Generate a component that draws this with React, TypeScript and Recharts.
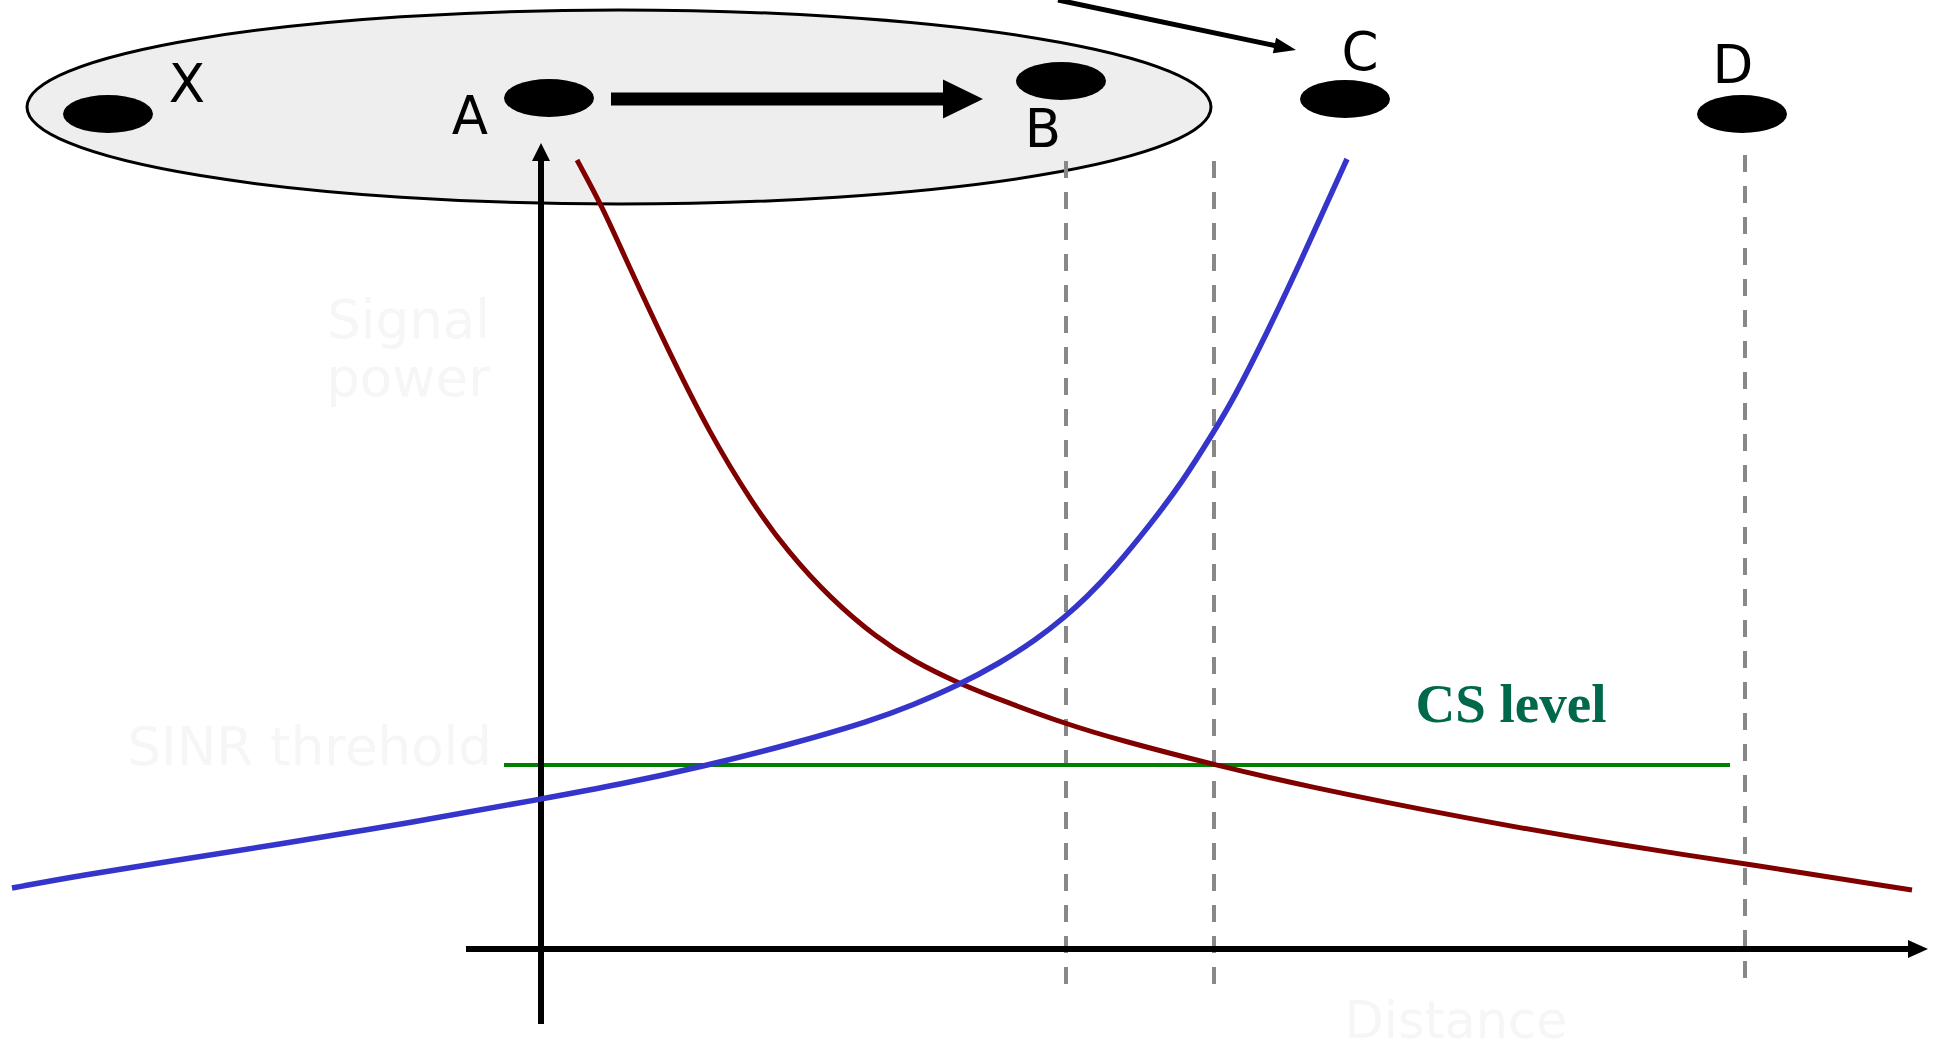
import React from 'react';
import { LineChart, Line, XAxis, YAxis, ReferenceLine, ReferenceDot } from 'recharts';

const W = 1937;
const H = 1052;

// distance (d) vs signal power (p)
const powerFromA = [
  { d: 577, p: 892 }, { d: 602, p: 846 }, { d: 627, p: 790 }, { d: 670, p: 698 },
  { d: 709, p: 620 }, { d: 752, p: 549 }, { d: 788, p: 500 }, { d: 831, p: 453 },
  { d: 877, p: 414 }, { d: 913, p: 391 }, { d: 960, p: 368 }, { d: 1006, p: 350 },
  { d: 1066, p: 328 }, { d: 1119, p: 312 }, { d: 1215, p: 287 }, { d: 1300, p: 267 },
  { d: 1463, p: 234 }, { d: 1625, p: 206 }, { d: 1747, p: 188 }, { d: 1912, p: 162 },
];

const powerFromC = [
  { d: 12, p: 164 }, { d: 83, p: 177 }, { d: 166, p: 190 }, { d: 274, p: 207 },
  { d: 415, p: 230 }, { d: 541, p: 253 }, { d: 622, p: 268 }, { d: 705, p: 286 },
  { d: 788, p: 307 }, { d: 871, p: 331 }, { d: 913, p: 347 }, { d: 957, p: 366 },
  { d: 1000, p: 389 }, { d: 1036, p: 412 }, { d: 1066, p: 436 }, { d: 1086, p: 454 },
  { d: 1113, p: 482 }, { d: 1150, p: 527 }, { d: 1183, p: 571 }, { d: 1213, p: 619 },
  { d: 1233, p: 652 }, { d: 1267, p: 719 }, { d: 1300, p: 789 }, { d: 1327, p: 849 },
  { d: 1347, p: 893 },
];

const csLevel = 287;
const csRange = [504, 1730];

const nodes = [
  { name: 'X', d: 108, p: 938 },
  { name: 'A', d: 549, p: 954 },
  { name: 'B', d: 1061, p: 971 },
  { name: 'C', d: 1345, p: 953 },
  { name: 'D', d: 1742, p: 938 },
];

const nodeLabels = [
  { text: 'X', d: 187, p: 950 },
  { text: 'A', d: 470, p: 918 },
  { text: 'B', d: 1043, p: 905 },
  { text: 'C', d: 1360, p: 982 },
  { text: 'D', d: 1733, p: 969 },
];

const rangeMarks = [
  { d: 1066, top: 891, bottom: 54 },
  { d: 1214, top: 891, bottom: 54 },
  { d: 1745, top: 897, bottom: 60 },
];

const coverage = { d: 619, p: 945 };

const arrows = [
  { from: { d: 541, p: 28 }, to: { d: 541, p: 909 }, w: 6, head: 18, half: 9 },
  { from: { d: 466, p: 103 }, to: { d: 1928, p: 103 }, w: 6, head: 20, half: 9 },
  { from: { d: 611, p: 953 }, to: { d: 983, p: 953 }, w: 13, head: 40, half: 19.5 },
  { from: { d: 1058, p: 1052 }, to: { d: 1296, p: 1002 }, w: 5, head: 22, half: 8 },
];

const faintTexts = [
  { lines: ['Signal', 'power'], d: 490, p: 714, anchor: 'end', size: 53 },
  { lines: ['SINR threhold'], d: 492, p: 287, anchor: 'end', size: 53 },
  { lines: ['Distance'], d: 1456, p: 14, anchor: 'middle', size: 51 },
];

const csLabel = { text: 'CS level', d: 1511, p: 330 };

function makeArrow(width: number, headLen: number, half: number, color: string) {
  return (props: any) => {
    const { x1, y1, x2, y2 } = props;
    const dx = x2 - x1;
    const dy = y2 - y1;
    const len = Math.hypot(dx, dy) || 1;
    const ux = dx / len;
    const uy = dy / len;
    const bx = x2 - ux * headLen;
    const by = y2 - uy * headLen;
    const nx = -uy;
    const ny = ux;
    return (
      <g>
        <line x1={x1} y1={y1} x2={bx + ux} y2={by + uy} stroke={color} strokeWidth={width} />
        <polygon
          points={`${x2},${y2} ${bx + nx * half},${by + ny * half} ${bx - nx * half},${by - ny * half}`}
          fill={color}
        />
      </g>
    );
  };
}

const letterFont = '"DejaVu Sans", sans-serif';

export default function App() {
  return (
    <div style={{ position: 'absolute', left: 0, top: 0, width: W, height: H, background: '#ffffff' }}>
      <LineChart width={W} height={H} margin={{ top: 0, right: 0, bottom: 0, left: 0 }}>
        <XAxis type="number" dataKey="d" domain={[0, W]} allowDataOverflow hide />
        <YAxis type="number" dataKey="p" domain={[0, H]} allowDataOverflow hide />

        <ReferenceDot
          x={coverage.d}
          y={coverage.p}
          ifOverflow="visible"
          zIndex={-20}
          shape={(props: any) => (
            <ellipse cx={props.cx} cy={props.cy} rx={592} ry={97} fill="#eeeeee" stroke="#000000" strokeWidth={3} />
          )}
        />

        {rangeMarks.map((m, i) => (
          <ReferenceLine
            key={`rm${i}`}
            ifOverflow="visible"
            segment={[{ x: m.d, y: m.top }, { x: m.d, y: m.bottom }]}
            stroke="#888888"
            strokeWidth={4}
            strokeDasharray="17 14"
          />
        ))}

        <ReferenceLine
          ifOverflow="visible"
          segment={[{ x: csRange[0], y: csLevel }, { x: csRange[1], y: csLevel }]}
          stroke="#008000"
          strokeWidth={4}
        />

        {arrows.map((a, i) => (
          <ReferenceLine
            key={`ar${i}`}
            ifOverflow="visible"
            segment={[{ x: a.from.d, y: a.from.p }, { x: a.to.d, y: a.to.p }]}
            shape={makeArrow(a.w, a.head, a.half, '#000000')}
          />
        ))}

        <Line
          data={powerFromA}
          dataKey="p"
          type="basis"
          stroke="#800000"
          strokeWidth={5}
          dot={false}
          activeDot={false}
          isAnimationActive={false}
        />
        <Line
          data={powerFromC}
          dataKey="p"
          type="basis"
          stroke="#3535cc"
          strokeWidth={5.5}
          dot={false}
          activeDot={false}
          isAnimationActive={false}
        />

        {nodes.map((n) => (
          <ReferenceDot
            key={`n${n.name}`}
            x={n.d}
            y={n.p}
            ifOverflow="visible"
            shape={(props: any) => <ellipse cx={props.cx} cy={props.cy} rx={45} ry={19} fill="#000000" />}
          />
        ))}

        {nodeLabels.map((l) => (
          <ReferenceDot
            key={`l${l.text}`}
            x={l.d}
            y={l.p}
            ifOverflow="visible"
            shape={(props: any) => (
              <text x={props.cx} y={props.cy} textAnchor="middle" fontFamily={letterFont} fontSize={53} fill="#000000">
                {l.text}
              </text>
            )}
          />
        ))}

        {faintTexts.map((t, i) => (
          <ReferenceDot
            key={`f${i}`}
            x={t.d}
            y={t.p}
            ifOverflow="visible"
            shape={(props: any) => (
              <text x={props.cx} y={props.cy} textAnchor={t.anchor as any} fontFamily={letterFont} fontSize={t.size} fill="#f6f6f6">
                {t.lines.map((ln, j) => (
                  <tspan key={j} x={props.cx} dy={j === 0 ? 0 : 58}>
                    {ln}
                  </tspan>
                ))}
              </text>
            )}
          />
        ))}

        <ReferenceDot
          x={csLabel.d}
          y={csLabel.p}
          ifOverflow="visible"
          shape={(props: any) => (
            <text
              x={props.cx}
              y={props.cy}
              textAnchor="middle"
              fontFamily='"Liberation Serif", serif'
              fontWeight="bold"
              fontSize={55}
              fill="#00694c"
            >
              {csLabel.text}
            </text>
          )}
        />
      </LineChart>
    </div>
  );
}
